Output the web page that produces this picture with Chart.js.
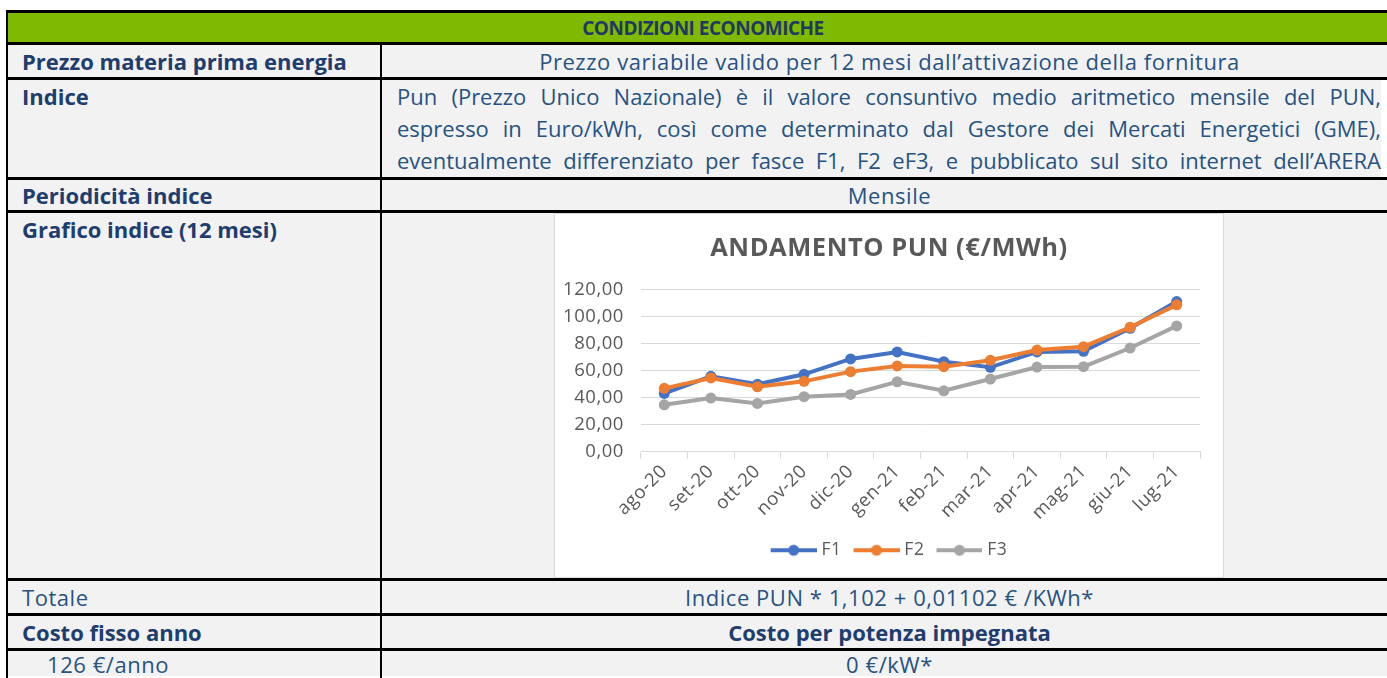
<!DOCTYPE html>
<html lang="it">
  <head>
    <meta charset="utf-8">
    <title>Condizioni economiche</title>
    <script src="https://cdn.jsdelivr.net/npm/chart.js"></script>
    <style>
      body { margin: 0; width: 1387px; height: 678px; overflow: hidden; background: #fff;
             font-family: "Open Sans", sans-serif; font-size: 22px; letter-spacing: 0.55px; color: #275282; }
      .ln { position: absolute; left: 6px; width: 1400px; height: 3px; background: #000; }
      .vl { position: absolute; width: 2px; background: #000; }
      .cell { position: absolute; background: #F2F2F2; display: flex; align-items: center; white-space: nowrap; }
      .b { font-weight: bold; color: #1F3D6E; letter-spacing: 0; }
      .c { justify-content: center; }
      .just div { text-align: justify; text-align-last: justify; height: 32px; line-height: 32px; }
      #box { position: absolute; left: 554px; top: 213px; width: 668px; height: 363px;
             background: #fff; border: 1px solid #D9D9D9; }
    </style>
  </head>
  <body>
    <!-- celle -->
    <div class="cell b" style="left:8px;top:13px;width:1400px;height:29px;background:#7FBA00"><span style="position:absolute;left:0;width:1390px;text-align:center;color:#1F3864;font-size:19px;letter-spacing:-0.5px">CONDIZIONI ECONOMICHE</span></div>

    <div class="cell b" style="left:8px;top:45px;width:358px;height:32px;padding-left:14px">Prezzo materia prima energia</div>
    <div class="cell c" style="left:382px;top:45px;width:1015px;height:32px">Prezzo variabile valido per 12 mesi dall’attivazione della fornitura</div>

    <div class="cell b" style="left:8px;top:80px;width:358px;height:97px;padding-left:14px;align-items:flex-start;line-height:32px">Indice</div>
    <div class="cell just" style="left:382px;top:80px;width:984px;height:97px;padding-left:15px;display:block;letter-spacing:0">
      <div>Pun (Prezzo Unico Nazionale) è il valore consuntivo medio aritmetico mensile del PUN,</div>
      <div>espresso in Euro/kWh, così come determinato dal Gestore dei Mercati Energetici (GME),</div>
      <div>eventualmente differenziato per fasce F1, F2 eF3, e pubblicato sul sito internet dell’ARERA</div>
    </div>

    <div class="cell b" style="left:8px;top:180px;width:358px;height:30px;padding-left:14px">Periodicità indice</div>
    <div class="cell c" style="left:382px;top:180px;width:1015px;height:30px">Mensile</div>

    <div class="cell b" style="left:8px;top:213px;width:358px;height:365px;padding-left:14px;align-items:flex-start;padding-top:1px">Grafico indice (12 mesi)</div>
    <div class="cell" style="left:382px;top:213px;width:1015px;height:365px"></div>

    <div class="cell" style="left:8px;top:581px;width:358px;height:32px;padding-left:14px">Totale</div>
    <div class="cell c" style="left:382px;top:581px;width:1015px;height:32px">Indice PUN * 1,102 + 0,01102 € /KWh*</div>

    <div class="cell b" style="left:8px;top:616px;width:358px;height:32px;padding-left:14px">Costo fisso anno</div>
    <div class="cell c b" style="left:382px;top:616px;width:1015px;height:32px">Costo per potenza impegnata</div>

    <div class="cell" style="left:8px;top:651px;width:333px;height:25px;padding-left:39px">126 €/anno</div>
    <div class="cell c" style="left:382px;top:651px;width:1015px;height:25px">0 €/kW*</div>

    <!-- bordi -->
    <div class="ln" style="top:10px"></div>
    <div class="ln" style="top:42px"></div>
    <div class="ln" style="top:77px"></div>
    <div class="ln" style="top:177px"></div>
    <div class="ln" style="top:210px"></div>
    <div class="ln" style="top:578px"></div>
    <div class="ln" style="top:613px"></div>
    <div class="ln" style="top:648px"></div>
    <div class="vl" style="left:6px;top:10px;height:668px"></div>
    <div class="vl" style="left:380px;top:44px;height:634px"></div>

    <div id="box"><canvas id="pun"></canvas></div>

    <script>
      // dati
      var mesi = ['ago-20','set-20','ott-20','nov-20','dic-20','gen-21','feb-21','mar-21','apr-21','mag-21','giu-21','lug-21'];
      var f1 = [43.0, 55.7, 49.8, 57.2, 68.6, 73.8, 66.6, 62.4, 73.8, 74.3, 91.3, 111.1];
      var f2 = [46.8, 54.5, 48.0, 52.0, 59.2, 63.4, 62.9, 67.6, 75.2, 77.7, 92.1, 108.7];
      var f3 = [34.6, 39.6, 35.6, 40.6, 42.3, 51.7, 45.0, 53.7, 62.6, 62.9, 76.7, 93.1];
      var yTicks = [0, 20, 40, 60, 80, 100, 120];

      var nomi = ['F1', 'F2', 'F3'];
      var colori = ['#4472C4', '#ED7D31', '#A5A5A5'];
      var grigio = '#595959';

      // simbolo legenda: linea con pallino (spostato a destra di 4px nel canvas)
      function simbolo(col) {
        var c = document.createElement('canvas');
        c.width = 50; c.height = 14;
        var x = c.getContext('2d');
        x.strokeStyle = col; x.lineWidth = 4;
        x.beginPath(); x.moveTo(4, 7); x.lineTo(50, 7); x.stroke();
        x.fillStyle = col;
        x.beginPath(); x.arc(27, 7, 5.5, 0, Math.PI * 2); x.fill();
        return c;
      }

      var serie = [f1, f2, f3];
      var datasets = [];
      for (var i = 0; i < 3; i++) {
        datasets.push({
          label: nomi[i],
          data: serie[i],
          borderColor: colori[i],
          backgroundColor: colori[i],
          borderWidth: 4,
          pointRadius: 5.5,
          pointBorderWidth: 0,
          pointBackgroundColor: colori[i],
          tension: 0,
          order: 3 - i
        });
      }

      Chart.defaults.font.family = '"Open Sans", sans-serif';
      Chart.defaults.color = grigio;

      new Chart(document.getElementById('pun'), {
        type: 'line',
        data: { labels: mesi, datasets: datasets },
        options: {
          animation: false,
          responsive: true,
          maintainAspectRatio: false,
          layout: { padding: { left: 0, right: 0, top: 0, bottom: 8 } },
          plugins: {
            tooltip: { enabled: false },
            title: {
              display: true,
              text: 'ANDAMENTO PUN (€/MWh)',
              color: grigio,
              font: { size: 25.5, weight: 'bold' },
              padding: { top: 19.5, bottom: 25.5 }
            },
            legend: {
              position: 'bottom',
              labels: {
                usePointStyle: true,
                pointStyleWidth: 42,
                padding: 12,
                color: grigio,
                font: { size: 17.5 },
                generateLabels: function (chart) {
                  return chart.data.datasets.map(function (d, k) {
                    return { text: d.label, pointStyle: simbolo(colori[k]), fillStyle: colori[k],
                             strokeStyle: colori[k], lineWidth: 0, fontColor: grigio, datasetIndex: k };
                  });
                }
              }
            }
          },
          scales: {
            y: {
              min: 0, max: 120,
              afterBuildTicks: function (s) { s.ticks = yTicks.map(function (v) { return { value: v }; }); },
              afterFit: function (s) { s.width = 86; },
              border: { display: false },
              grid: { color: '#D9D9D9', drawTicks: false },
              ticks: {
                padding: 17,
                font: { size: 18.5 },
                color: grigio,
                callback: function (v) { return v.toFixed(2).replace('.', ','); }
              }
            },
            // asse vuoto a destra, solo per lo spazio
            yDx: {
              position: 'right',
              min: 0, max: 120,
              afterFit: function (s) { s.width = 23; },
              border: { display: false },
              grid: { display: false },
              ticks: { display: false }
            },
            x: {
              offset: true,
              afterFit: function (s) { s.height = 78; },
              border: { display: true, color: '#D9D9D9', width: 1 },
              grid: { offset: true, drawOnChartArea: false, drawTicks: true, tickLength: 7, color: '#D9D9D9' },
              ticks: { minRotation: 45, maxRotation: 45, font: { size: 18.5 }, color: grigio, padding: 2 }
            }
          }
        }
      });
    </script>
  </body>
</html>
